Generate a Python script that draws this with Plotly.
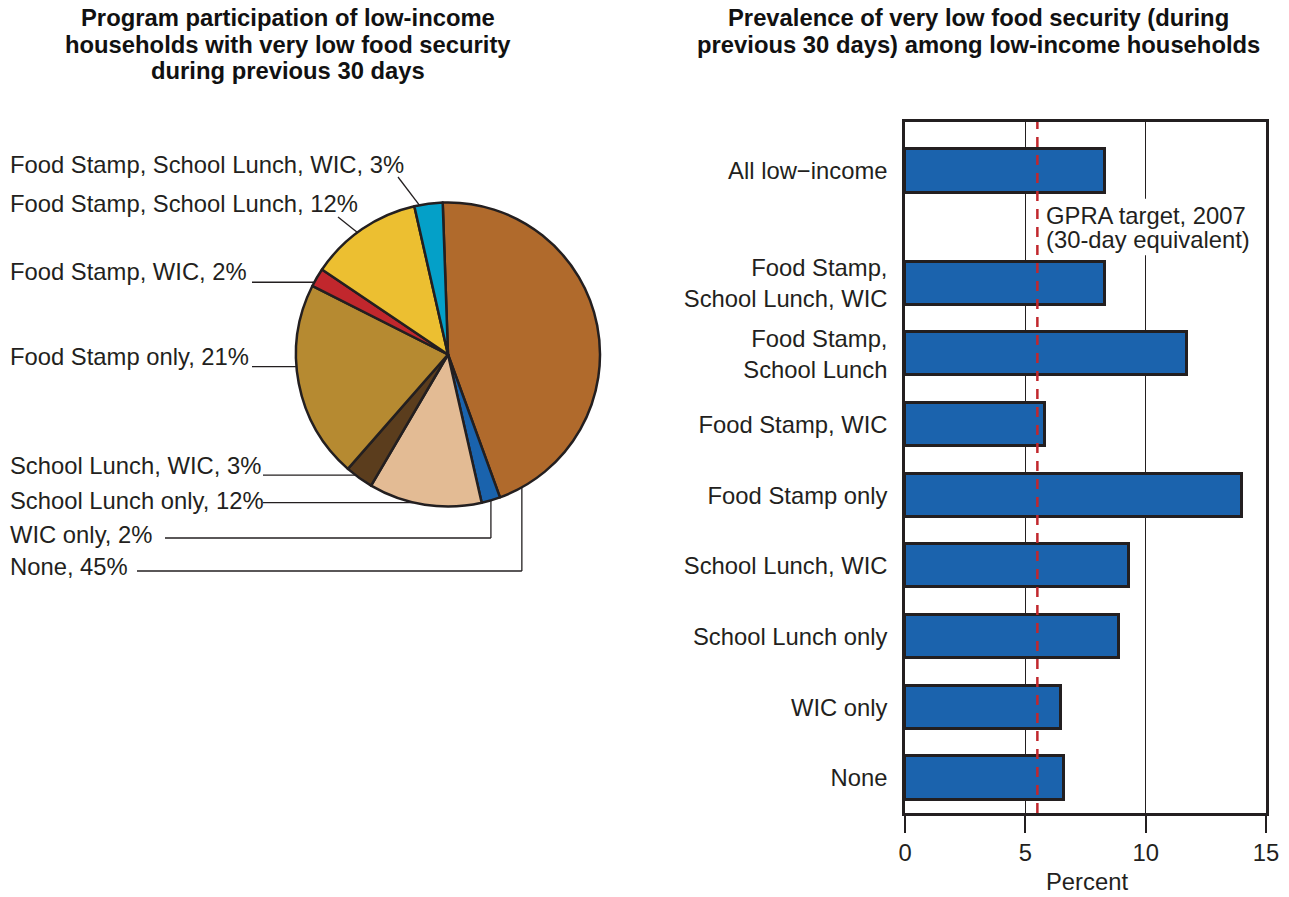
import math
import plotly.graph_objects as go

W, H = 1289, 897
FONT = "Liberation Sans, Arial, Helvetica, sans-serif"
INK = "#231f20"
FS = 23.8

# ---------------- data ----------------
pie_labels = ["None", "WIC only", "School Lunch only", "School Lunch, WIC",
              "Food Stamp only", "Food Stamp, WIC", "Food Stamp, School Lunch",
              "Food Stamp, School Lunch, WIC"]
pie_values = [45, 2, 12, 3, 21, 2, 12, 3]
pie_colors = ["#b06a2c", "#1a63ad", "#e3bb94", "#5b3d1d",
              "#b68a31", "#c1272d", "#ecbf31", "#04a0c8"]

bar_categories = ["All low\u2212income", "Food Stamp,<br>School Lunch, WIC",
                  "Food Stamp,<br>School Lunch", "Food Stamp, WIC", "Food Stamp only",
                  "School Lunch, WIC", "School Lunch only", "WIC only", "None"]
bar_values = [8.3, 8.3, 11.7, 5.8, 14.0, 9.3, 8.9, 6.5, 6.6]
gpra_target = 5.5
gpra_text = ["GPRA target, 2007", "(30-day equivalent)"]
x_ticks = [0, 5, 10, 15]

title_left = ["Program participation of low-income",
              "households with very low food security",
              "during previous 30 days"]
title_right = ["Prevalence of very low food security (during",
               "previous 30 days) among low-income households"]


def px(x):
    return x / W


def py(y):
    return 1 - y / H


# ---------------- pie geometry (layout) ----------------
CX, CY, R, ROT = 448, 354.5, 152, -2
total = sum(pie_values)
cum = [sum(pie_values[:i]) for i in range(len(pie_values))]


def edge_point(i, frac):
    a = math.radians(ROT + 360.0 * (cum[i] + frac * pie_values[i]) / total)
    return CX + R * math.sin(a), CY - R * math.cos(a)


# label layout: (index, text centre y px, leader kind, line start x, line y / start y, frac)
label_layout = [
    (0, 566, "elbow", 137, 571, 0.944),
    (1, 534, "elbow", 165, 538, 0.5),
    (2, 500, "h", 263, None, 0.6),
    (3, 466, "h", 263, None, 0.65),
    (4, 356, "h", 252, None, 0.585),
    (5, 272, "h", 252, None, 0.22),
    (6, 204, "diag", 338, 217, 0.45),
    (7, 164, "diag", 398, 177, 0.18),
]

fig = go.Figure()

fig.add_trace(go.Pie(
    values=pie_values, labels=pie_labels, sort=False, direction="clockwise",
    rotation=ROT, textinfo="none", showlegend=False, automargin=False,
    marker=dict(colors=pie_colors, line=dict(color=INK, width=2.5)),
    domain=dict(x=[px(CX - R), px(CX + R)], y=[py(CY + R), py(CY - R)]),
))

shapes = []
annotations = []
for idx, ty, kind, lx, ly, frac in label_layout:
    ex, ey = edge_point(idx, frac)
    annotations.append(dict(
        text=f"{pie_labels[idx]}, {pie_values[idx]}%", xref="paper", yref="paper",
        x=px(8), y=py(ty), xanchor="left", yanchor="middle", showarrow=False,
        font=dict(size=FS, color=INK, family=FONT)))
    line = dict(color=INK, width=1.3)
    if kind == "elbow":
        shapes.append(dict(type="line", xref="paper", yref="paper",
                           x0=px(lx), y0=py(ly), x1=px(ex), y1=py(ly), line=line))
        shapes.append(dict(type="line", xref="paper", yref="paper",
                           x0=px(ex), y0=py(ly), x1=px(ex), y1=py(ey), line=line))
    elif kind == "h":
        shapes.append(dict(type="line", xref="paper", yref="paper",
                           x0=px(lx), y0=py(ey), x1=px(ex), y1=py(ey), line=line))
    else:
        shapes.append(dict(type="line", xref="paper", yref="paper",
                           x0=px(lx), y0=py(ly), x1=px(ex), y1=py(ey), line=line))

# ---------------- bar chart ----------------
GROUP_GAP = 0.585  # extra space between the "All low-income" bar and the others
n = len(bar_categories)
bar_pos = [(n - 1 - i) + (GROUP_GAP if i == 0 else 0) for i in range(n)]

fig.add_trace(go.Bar(
    x=bar_values, y=bar_pos, orientation="h", width=0.61,
    marker=dict(color="#1b63ad", line=dict(color=INK, width=3)),
    xaxis="x", yaxis="y", showlegend=False,
))

gpra_y = (bar_pos[0] + bar_pos[1]) / 2
# white knock-out behind the GPRA note (interrupts the grid line)
shapes.append(dict(type="rect", xref="x", yref="y", x0=gpra_target + 0.3, x1=14.6,
                   y0=gpra_y - 0.4, y1=gpra_y + 0.4, layer="above",
                   fillcolor="white", line=dict(width=0)))
shapes.append(dict(type="line", xref="x", yref="y domain", x0=gpra_target, x1=gpra_target,
                   y0=0, y1=1, layer="above",
                   line=dict(color="#c1272d", width=2.5, dash="10px,8px")))

for txt, dy in zip(gpra_text, [12, -12]):
    annotations.append(dict(
        text=txt, xref="x", yref="y", x=gpra_target, y=gpra_y, yshift=dy, xshift=7,
        xanchor="left", yanchor="middle", showarrow=False,
        font=dict(size=FS, color=INK, family=FONT)))

annotations.append(dict(text="Percent", xref="paper", yref="paper", x=px(1087), y=py(881),
                        xanchor="center", yanchor="middle", showarrow=False,
                        font=dict(size=FS, color=INK, family=FONT)))

for k, line_txt in enumerate(title_left):
    annotations.append(dict(text="<b>" + line_txt + "</b>", xref="paper", yref="paper",
                            x=px(288), y=py(18 + 26 * k), xanchor="center", yanchor="middle",
                            showarrow=False, font=dict(size=FS, color="#111111", family=FONT)))
for k, line_txt in enumerate(title_right):
    annotations.append(dict(text="<b>" + line_txt + "</b>", xref="paper", yref="paper",
                            x=px(978), y=py(18 + 26 * k), xanchor="center", yanchor="middle",
                            showarrow=False, font=dict(size=FS, color="#111111", family=FONT)))

fig.update_layout(
    width=W, height=H, autosize=False,
    margin=dict(l=0, r=0, t=0, b=0, pad=0, autoexpand=False),
    paper_bgcolor="white", plot_bgcolor="white",
    font=dict(family=FONT, color=INK, size=FS),
    bargap=0,
    xaxis=dict(domain=[px(905), px(1266)], range=[0, 15], tickvals=x_ticks,
               showgrid=True, gridcolor=INK, gridwidth=1.2, zeroline=False,
               showline=True, linecolor=INK, linewidth=2.5, mirror=True,
               ticks="outside", ticklen=17, tickwidth=1.5, tickcolor=INK, automargin=False,
               tickfont=dict(size=FS, color=INK, family=FONT), anchor="y"),
    yaxis=dict(domain=[py(813), py(122)], range=[-0.495, bar_pos[0] + 0.693],
               tickvals=bar_pos, ticktext=bar_categories, showgrid=False, zeroline=False,
               showline=True, linecolor=INK, linewidth=2.5, mirror=True, ticks="",
               automargin=False, ticklabelstandoff=10,
               tickfont=dict(size=FS, color=INK, family=FONT), anchor="x"),
    shapes=shapes, annotations=annotations,
)

fig.write_html(
    "out.html",
    config={"displayModeBar": False},
    post_script=("document.documentElement.style.overflow='hidden';"
                 "document.body.style.overflow='hidden';"
                 "document.body.style.margin='0px';"),
)
